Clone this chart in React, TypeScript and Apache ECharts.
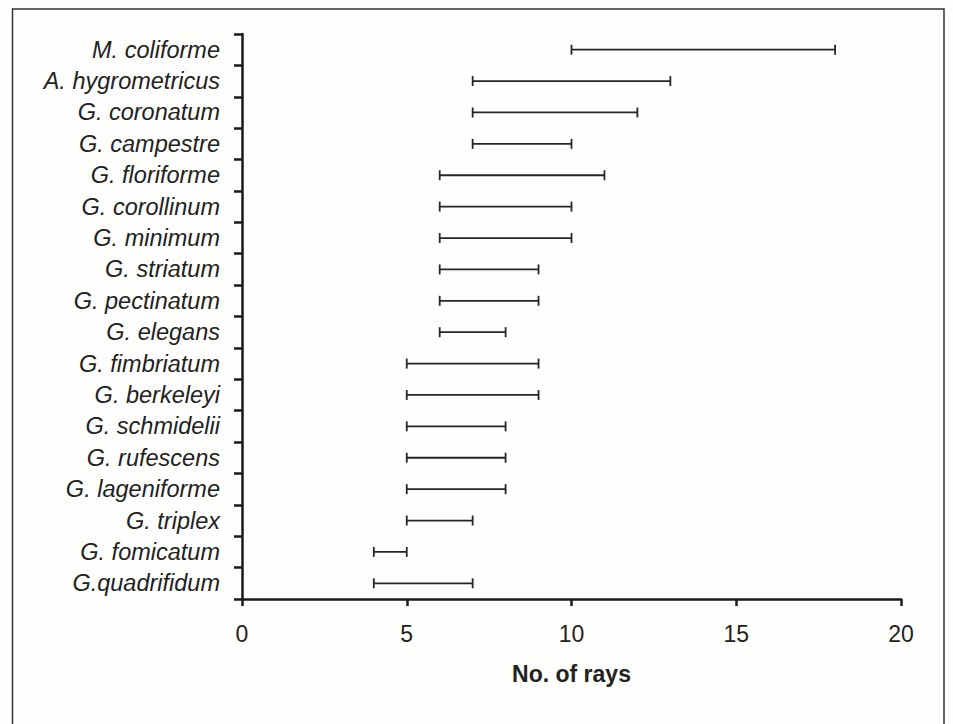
import React, { useEffect, useRef } from "react";
import * as echarts from "echarts";

const species = [
  "M. coliforme",
  "A. hygrometricus",
  "G. coronatum",
  "G. campestre",
  "G. floriforme",
  "G. corollinum",
  "G. minimum",
  "G. striatum",
  "G. pectinatum",
  "G. elegans",
  "G. fimbriatum",
  "G. berkeleyi",
  "G. schmidelii",
  "G. rufescens",
  "G. lageniforme",
  "G. triplex",
  "G. fomicatum",
  "G.quadrifidum",
];
const minRays = [10, 7, 7, 7, 6, 6, 6, 6, 6, 6, 5, 5, 5, 5, 5, 5, 4, 4];
const maxRays = [18, 13, 12, 10, 11, 10, 10, 9, 9, 8, 9, 9, 8, 8, 8, 7, 5, 7];
const xTicks = [0, 5, 10, 15, 20];

export default function App() {
  const ref = useRef<HTMLDivElement>(null);
  useEffect(() => {
    if (!ref.current) return;
    const chart = echarts.init(ref.current, null, { renderer: "svg" });
    const data = species.map((_, i) => [minRays[i], maxRays[i], i]);
    const font = "'Liberation Sans', Arial, sans-serif";
    chart.setOption({
      animation: false,
      backgroundColor: "#fefefc",
      grid: { left: 242, right: 52, top: 34, bottom: 125, containLabel: false },
      xAxis: {
        type: "value",
        min: xTicks[0],
        max: xTicks[xTicks.length - 1],
        interval: 5,
        name: "No. of rays",
        nameLocation: "middle",
        nameGap: 63,
        nameTextStyle: { fontFamily: font, fontSize: 23, fontWeight: "bold", color: "#222" },
        axisLine: { show: true, lineStyle: { color: "#1a1a1a", width: 2.5 } },
        axisTick: { show: true, length: 7, lineStyle: { color: "#1a1a1a", width: 2.5 } },
        axisLabel: { fontFamily: font, fontSize: 23, color: "#222", margin: 23 },
        splitLine: { show: false },
      },
      yAxis: {
        type: "category",
        inverse: true,
        data: species,
        boundaryGap: true,
        axisLine: { show: true, lineStyle: { color: "#1a1a1a", width: 2.5 } },
        axisTick: { show: true, length: 8, lineStyle: { color: "#1a1a1a", width: 2.5 } },
        axisLabel: {
          fontFamily: font,
          fontSize: 23.5,
          fontStyle: "italic",
          color: "#222",
          margin: 22,
          padding: [6, 0, 0, 0],
        },
        splitLine: { show: false },
      },
      graphic: [
        {
          type: "polyline",
          shape: { points: [[12.5, 740], [12.5, 9], [944, 9], [944, 740]] },
          style: { stroke: "#333", lineWidth: 1.5, fill: "none" },
          silent: true,
        },
      ],
      series: [
        {
          type: "custom",
          encode: { x: [0, 1], y: 2 },
          data,
          renderItem: (params: any, api: any) => {
            const lo = api.value(0);
            const hi = api.value(1);
            const idx = api.value(2);
            const p1 = api.coord([lo, idx]);
            const p2 = api.coord([hi, idx]);
            const style = { stroke: "#262626", lineWidth: 1.8 };
            const cap = 5;
            return {
              type: "group",
              children: [
                { type: "line", shape: { x1: p1[0], y1: p1[1], x2: p2[0], y2: p2[1] }, style },
                { type: "line", shape: { x1: p1[0], y1: p1[1] - cap, x2: p1[0], y2: p1[1] + cap }, style },
                { type: "line", shape: { x1: p2[0], y1: p2[1] - cap, x2: p2[0], y2: p2[1] + cap }, style },
              ],
            };
          },
        },
      ],
    });
    return () => chart.dispose();
  }, []);
  return (
    <div
      ref={ref}
      style={{ position: "fixed", left: 0, top: 0, width: 953, height: 724 }}
    />
  );
}
